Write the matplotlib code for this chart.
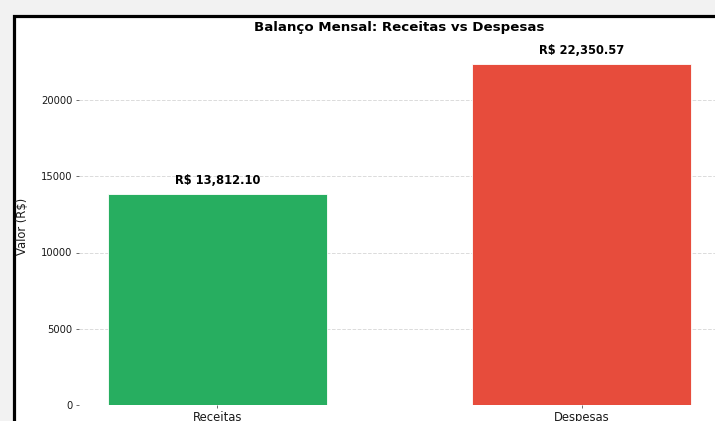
import matplotlib
matplotlib.use("Agg")
import matplotlib.pyplot as plt
from matplotlib.patches import Rectangle

categories = ["Receitas", "Despesas"]
values = [13812.10, 22350.57]
colors = ["#27ae60", "#e74c3c"]
yticks = [0, 5000, 10000, 15000, 20000]

W, H = 715, 421
fig = plt.figure(figsize=(W / 100, H / 100), dpi=100)
fig.patch.set_facecolor("#f2f2f2")

border = Rectangle((13.5 / W, -0.2), 2.0, (H - 15.5) / H + 0.2,
                   transform=fig.transFigure, facecolor="white",
                   edgecolor="black", linewidth=2.3, zorder=-5)
fig.add_artist(border)

top_px = 405 - max(values) * 1.05 * (305 / 20000)
ax = fig.add_axes([79 / W, 16 / H, 641 / W, (405 - top_px) / H])
ax.set_facecolor("none")
bars = ax.bar(categories, values, color=colors, width=0.6,
              edgecolor="white", linewidth=0.6, zorder=3)
ax.set_ylim(0, max(values) * 1.05)
ax.set_yticks(yticks)
ax.yaxis.grid(True, linestyle="--", color="#cccccc", alpha=0.7, linewidth=0.7, zorder=0)
for s in ax.spines.values():
    s.set_visible(False)
ax.tick_params(axis="y", labelsize=7.2, colors="#555555", labelcolor="#1a1a1a",
               length=2, width=0.6, pad=2.5)
ax.tick_params(axis="x", labelsize=8.4, colors="#555555", labelcolor="#1a1a1a",
               length=2, width=0.6, pad=2.5)
ax.set_ylabel("Valor (R$)", fontsize=8.3, color="#1a1a1a", labelpad=8.5)
ax.set_title("Balanço Mensal: Receitas vs Despesas", fontsize=9.6,
             fontweight="bold", pad=11.5)

for b, v in zip(bars, values):
    ax.annotate(f"R$ {v:,.2f}", (b.get_x() + b.get_width() / 2, v),
                xytext=(0, 5), textcoords="offset points",
                ha="center", va="bottom", fontsize=8.3, fontweight="bold")

fig.savefig("out.png", dpi=100, facecolor=fig.get_facecolor())
